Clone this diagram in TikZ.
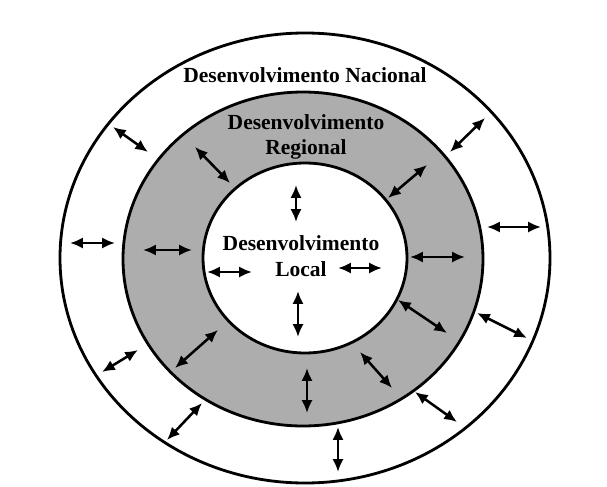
\documentclass[tikz,border=0pt]{standalone}
\usepackage{fontspec}
\setmainfont{Liberation Serif}
\usetikzlibrary{arrows.meta}

\begin{document}
\begin{tikzpicture}[x=0.025cm,y=-0.025cm,
  ring/.style={line width=2pt},
  dbl/.style={{Latex[length=3.2mm,width=2.8mm]}-{Latex[length=3.2mm,width=2.8mm]},line width=1.8pt},
  lbl/.style={font=\fontsize{15.3}{18}\selectfont\bfseries,align=center,inner sep=0pt}]
  \useasboundingbox (0,0) rectangle (607,487);
  \fill[white] (0,0) rectangle (607,487);
  % the three levels
  \draw[ring,fill=white] (305,258) ellipse [x radius=245, y radius=225];
  \draw[ring,fill=black!32] (303,259) ellipse [x radius=180, y radius=167];
  \draw[ring,fill=white] (305,258) ellipse [x radius=102, y radius=95];
  \node[lbl] (nacional) at (305,75) {Desenvolvimento Nacional};
  \node[lbl] (regional) at (306,137) {Desenvolvimento\\Regional};
  \node[lbl] (local) at (301,256) {Desenvolvimento\\Local};
  % outer ring
  \foreach \xa/\ya/\xb/\yb in {113/127/148/152, 485/118/450/152, 487/227/541/227, 70/243/115/243,
      138/350/102/372, 202/403/167/440, 477/313/527/338, 415/392/457/422, 338/427/338/472}
    \draw[dbl] (\xa,\ya) -- (\xb,\yb);
  % grey ring
  \foreach \xa/\ya/\xb/\yb in {195/147/230/183, 427/165/388/198, 143/250/192/250, 218/330/175/368,
      410/257/465/257, 398/300/447/333, 360/352/392/388, 307/368/307/413}
    \draw[dbl] (\xa,\ya) -- (\xb,\yb);
  % inner circle
  \foreach \xa/\ya/\xb/\yb in {296/185/296/222, 207/272/252/272, 338/268/382/268, 298/291/298/337}
    \draw[dbl] (\xa,\ya) -- (\xb,\yb);
\end{tikzpicture}
\end{document}
